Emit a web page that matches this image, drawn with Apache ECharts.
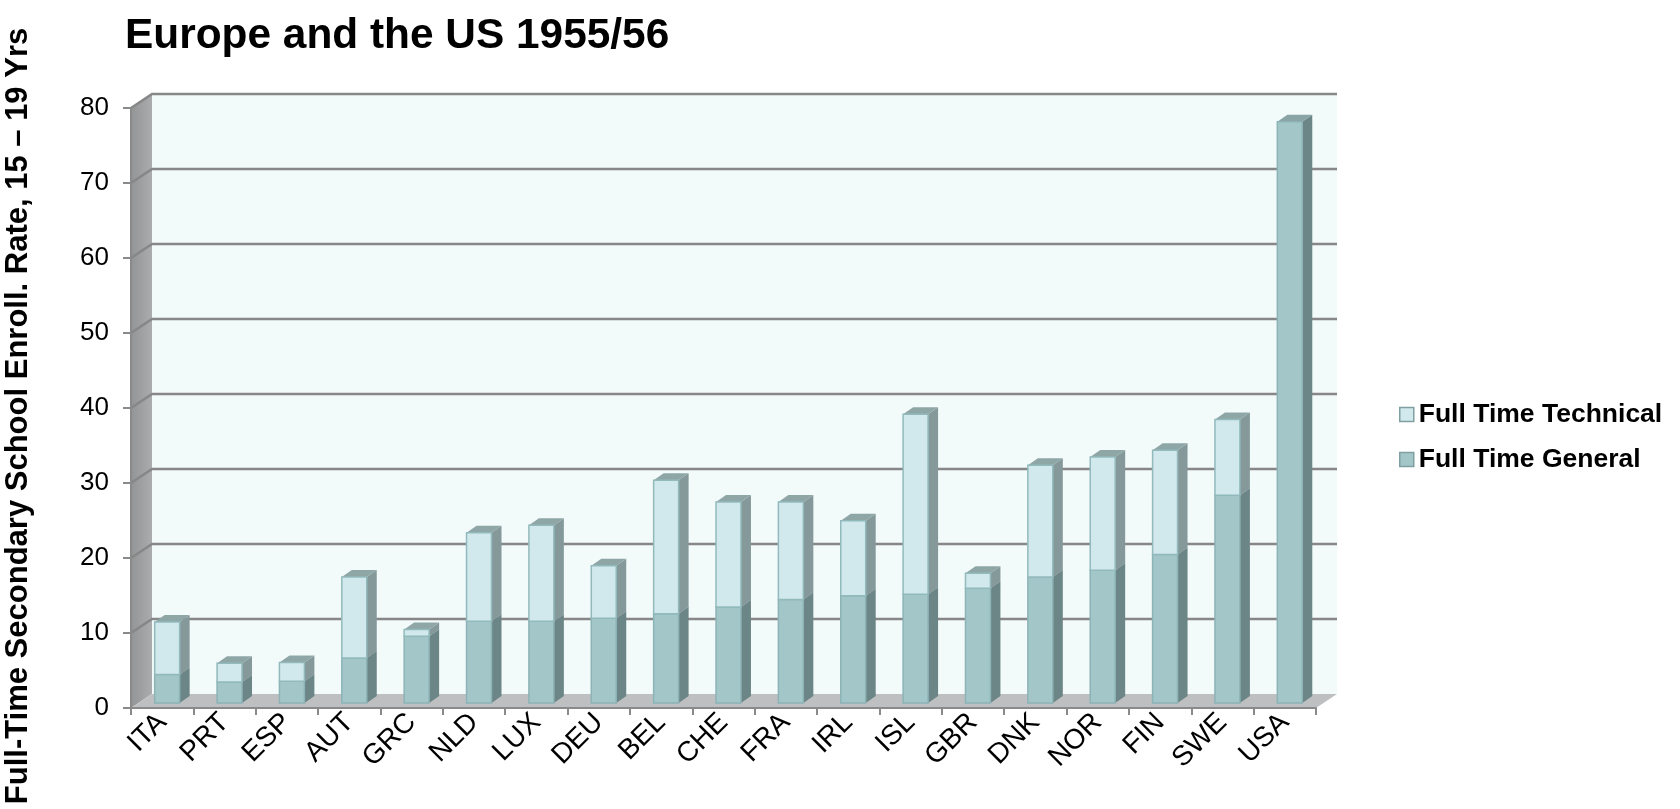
<!DOCTYPE html>
<html>
<head>
<meta charset="utf-8">
<script src="https://cdn.jsdelivr.net/npm/echarts@6/dist/echarts.min.js"></script>
<style>
  html, body { margin: 0; padding: 0; background: #fff; }
  #main { width: 1680px; height: 809px; }
</style>
</head>
<body>
<div id="main"></div>
<script>
"use strict";

// categories
let countries = ['ITA', 'PRT', 'ESP', 'AUT', 'GRC', 'NLD', 'LUX', 'DEU', 'BEL', 'CHE',
  'FRA', 'IRL', 'ISL', 'GBR', 'DNK', 'NOR', 'FIN', 'SWE', 'USA'];
// Full Time General (bottom part)
let general = [3.8, 2.8, 2.9, 6.0, 8.9, 10.9, 10.9, 11.3, 11.9, 12.8,
  13.8, 14.3, 14.5, 15.3, 16.8, 17.7, 19.8, 27.7, 77.5];
// Full Time Technical (stacked on top)
let technical = [7.0, 2.5, 2.5, 10.8, 0.9, 11.8, 12.8, 7.0, 17.8, 14.0,
  13.0, 10.0, 24.0, 2.0, 14.9, 15.1, 13.9, 10.1, 0];
// y axis
let yMin = 0, yMax = 80, yStep = 10;

// 3D look
let DX = 21, DY = -14;        // depth of the walls
let BAR_DX = 10, BAR_DY = -7; // depth of a bar
let BAR_LIFT = 5;             // bars sit a little back on the floor

let colGeneral = { front: '#a3c6c8', side: '#6c8586', top: '#8aa4a5', edge: '#8cb3b6' };
let colTechnical = { front: '#d1e9ed', side: '#85999b', top: '#8fa6a7', edge: '#92babd' };

let myChart = echarts.init(document.getElementById('main'));

function renderWalls(params, api) {
  let bw = api.size([1, 0])[0];
  let first = api.coord([0, yMin]);
  let last = api.coord([countries.length - 1, yMin]);
  let x0 = first[0] - bw / 2;
  let x1 = last[0] + bw / 2;
  let y0 = first[1];
  let yTop = api.coord([0, yMax])[1];
  let children = [];
  // back wall
  children.push({
    type: 'rect',
    shape: { x: x0 + DX, y: yTop + DY, width: x1 - x0, height: y0 - yTop },
    style: { fill: '#f2fafa' }
  });
  // left wall
  children.push({
    type: 'polygon',
    shape: { points: [[x0, y0], [x0, yTop], [x0 + DX, yTop + DY], [x0 + DX, y0 + DY]] },
    style: {
      fill: new echarts.graphic.LinearGradient(0, 0, 1, 0, [
        { offset: 0, color: '#929495' },
        { offset: 1, color: '#aaacad' }
      ])
    }
  });
  // floor
  children.push({
    type: 'polygon',
    shape: { points: [[x0, y0], [x1, y0], [x1 + DX, y0 + DY], [x0 + DX, y0 + DY]] },
    style: { fill: '#bdbfc0' }
  });
  // grid lines (side wall + back wall)
  for (let v = yMin + yStep; v <= yMax; v += yStep) {
    let y = api.coord([0, v])[1];
    children.push({
      type: 'polyline',
      shape: { points: [[x0, y], [x0 + DX, y + DY], [x1 + DX, y + DY]] },
      style: { stroke: '#878787', lineWidth: 2.5, fill: null }
    });
  }
  return { type: 'group', children: children };
}

function barRenderer(col) {
  return function (params, api) {
    let idx = api.value(0);
    let lo = api.value(1);
    let hi = api.value(2);
    if (!(hi > lo)) return null;
    let bw = api.size([1, 0])[0];
    let pLo = api.coord([idx, lo]);
    let pHi = api.coord([idx, hi]);
    let xl = pLo[0] - 0.12 * bw;
    let xr = pLo[0] + 0.28 * bw;
    let yb = pLo[1] - BAR_LIFT;
    let yt = pHi[1] - BAR_LIFT;
    return {
      type: 'group',
      children: [
        { // side
          type: 'polygon',
          shape: { points: [[xr, yb], [xr + BAR_DX, yb + BAR_DY], [xr + BAR_DX, yt + BAR_DY], [xr, yt]] },
          style: { fill: col.side }
        },
        { // top
          type: 'polygon',
          shape: { points: [[xl, yt], [xr, yt], [xr + BAR_DX, yt + BAR_DY], [xl + BAR_DX, yt + BAR_DY]] },
          style: { fill: col.top }
        },
        { // front
          type: 'rect',
          shape: { x: xl, y: yt, width: xr - xl, height: yb - yt },
          style: { fill: col.front, stroke: col.edge, lineWidth: 1.5 }
        }
      ]
    };
  };
}

let generalData = general.map(function (v, i) { return [i, 0, v]; });
let technicalData = technical.map(function (v, i) { return [i, general[i], general[i] + v]; });

let option = {
  animation: false,
  title: {
    text: 'Europe and the US 1955/56',
    left: 120,
    top: 10,
    textStyle: { fontFamily: 'Liberation Sans, Arial', fontSize: 42.4, fontWeight: 'bold', color: '#000' }
  },
  legend: {
    orient: 'vertical',
    left: 1394,
    top: 396,
    itemWidth: 14,
    itemHeight: 14,
    itemGap: 18,
    textStyle: { fontFamily: 'Liberation Sans, Arial', fontSize: 26.5, fontWeight: 'bold', color: '#000' },
    data: [
      { name: 'Full Time Technical', icon: 'rect', itemStyle: { color: colTechnical.front, borderColor: '#7f9fa2', borderWidth: 1.5 } },
      { name: 'Full Time General', icon: 'rect', itemStyle: { color: colGeneral.front, borderColor: '#7f9fa2', borderWidth: 1.5 } }
    ]
  },
  grid: {
    left: 131,
    right: 364,
    top: 108,
    bottom: 101,
    outerBoundsMode: 'none',
    containLabel: false
  },
  xAxis: {
    type: 'category',
    data: countries,
    z: 5,
    axisLine: { lineStyle: { color: '#8a8a8a', width: 2 } },
    axisTick: { show: true, length: 7, lineStyle: { color: '#8a8a8a', width: 2 } },
    axisLabel: {
      rotate: 45,
      margin: 10,
      fontFamily: 'Liberation Sans, Arial',
      fontSize: 28,
      color: '#000'
    },
    splitLine: { show: false }
  },
  yAxis: {
    type: 'value',
    min: yMin,
    max: yMax,
    interval: yStep,
    z: 5,
    name: 'Full-Time Secondary School Enroll. Rate, 15 – 19 Yrs',
    nameLocation: 'middle',
    nameRotate: 90,
    nameGap: 97,
    nameTextStyle: {
      fontFamily: 'Liberation Sans, Arial',
      fontSize: 31,
      fontWeight: 'bold',
      color: '#000',
      padding: [0, 16, 0, 0]
    },
    axisLine: { show: true, lineStyle: { color: '#8a8a8a', width: 2 } },
    axisTick: { show: true, length: 8, lineStyle: { color: '#8a8a8a', width: 2 } },
    axisLabel: {
      margin: 22,
      fontFamily: 'Liberation Sans, Arial',
      fontSize: 26,
      color: '#000'
    },
    splitLine: { show: false }
  },
  series: [
    {
      name: 'walls',
      type: 'custom',
      silent: true,
      z: 1,
      renderItem: renderWalls,
      encode: { x: 0, y: 1 },
      data: [[0, 0]]
    },
    {
      name: 'Full Time General',
      type: 'custom',
      z: 3,
      itemStyle: { color: colGeneral.front },
      renderItem: barRenderer(colGeneral),
      encode: { x: 0, y: [1, 2] },
      data: generalData
    },
    {
      name: 'Full Time Technical',
      type: 'custom',
      z: 3,
      itemStyle: { color: colTechnical.front },
      renderItem: barRenderer(colTechnical),
      encode: { x: 0, y: [1, 2] },
      data: technicalData
    }
  ]
};

myChart.setOption(option);
</script>
</body>
</html>
